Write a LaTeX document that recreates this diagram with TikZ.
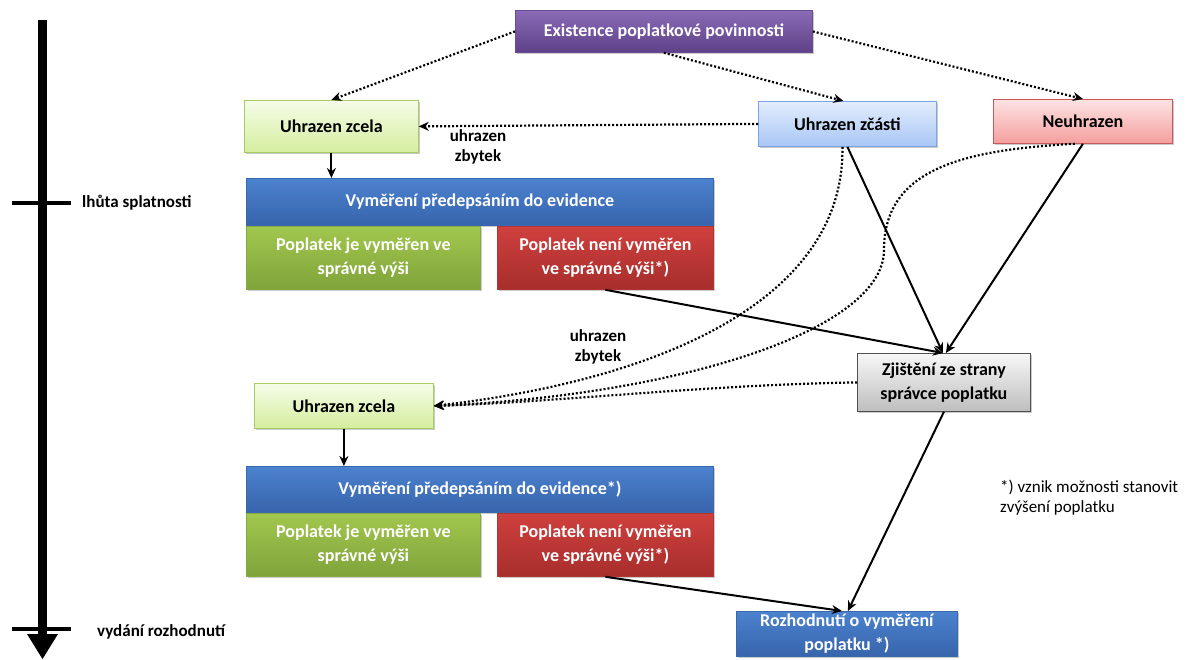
\documentclass[tikz,border=0pt]{standalone}
\usepackage{fontspec}
\setmainfont{Carlito}
\usetikzlibrary{shadows,arrows.meta}
\definecolor{purT}{HTML}{8A6BB5}
\definecolor{purB}{HTML}{5E4189}
\definecolor{purD}{HTML}{6A4E95}
\definecolor{bluT}{HTML}{4C82CE}
\definecolor{bluB}{HTML}{3764AC}
\definecolor{bluD}{HTML}{3A68AE}
\definecolor{grnT}{HTML}{A2C74E}
\definecolor{grnB}{HTML}{7FA33A}
\definecolor{grnD}{HTML}{86A941}
\definecolor{redT}{HTML}{CF403E}
\definecolor{redB}{HTML}{A72E2C}
\definecolor{redD}{HTML}{B03533}
\definecolor{lgrT}{HTML}{F6FCE8}
\definecolor{lgrB}{HTML}{D4EE9E}
\definecolor{lgrD}{HTML}{A9CB63}
\definecolor{lblT}{HTML}{E3EDFC}
\definecolor{lblB}{HTML}{A8C6F6}
\definecolor{lblD}{HTML}{7AA5E0}
\definecolor{pnkT}{HTML}{FDE3E3}
\definecolor{pnkB}{HTML}{F59E9E}
\definecolor{pnkD}{HTML}{C8585A}
\definecolor{gryT}{HTML}{F7F7F7}
\definecolor{gryB}{HTML}{BEBEBE}
\definecolor{gryD}{HTML}{505050}
\tikzset{
  box/.style={draw, line width=0.8pt, inner sep=2pt, align=center, anchor=north west,
    font=\bfseries\fontsize{18}{24}\selectfont,
    drop shadow={shadow xshift=2pt, shadow yshift=-2pt, opacity=0.35, fill=black!60}},
  darkbox/.style={box, text=white},
  lightbox/.style={box, text=black},
  purbox/.style={darkbox, top color=purT, bottom color=purB, draw=purD},
  blubox/.style={darkbox, top color=bluT, bottom color=bluB, draw=bluD},
  grnbox/.style={darkbox, top color=grnT, bottom color=grnB, draw=grnD},
  redbox/.style={darkbox, top color=redT, bottom color=redB, draw=redD},
  lgrbox/.style={lightbox, top color=lgrT, bottom color=lgrB, draw=lgrD},
  lblbox/.style={lightbox, top color=lblT, bottom color=lblB, draw=lblD},
  pnkbox/.style={lightbox, top color=pnkT, bottom color=pnkB, draw=pnkD},
  grybox/.style={lightbox, top color=gryT, bottom color=gryB, draw=gryD},
  dotarrow/.style={line width=2.2pt, dash pattern=on 2pt off 2pt, -{Stealth[length=10pt,width=9pt]}},
  solarrow/.style={line width=2pt, -{Stealth[length=10pt,width=9pt]}},
  lbl/.style={font=\bfseries\fontsize{17}{20}\selectfont, align=center, inner sep=0pt},
  note/.style={font=\fontsize{17}{20}\selectfont, align=left, inner sep=0pt, anchor=west}
}
\begin{document}
\begin{tikzpicture}[x=1pt,y=-1pt]
\useasboundingbox (0,0) rectangle (1186,659);
% timeline
\draw[line width=9pt] (42,20) -- (42,636);
\fill (27,634) -- (58,634) -- (42.5,659) -- cycle;
\draw[line width=4pt] (12,203) -- (71,203);
\draw[line width=4pt] (12,629) -- (71,629);
\node[lbl, anchor=west] (l1) at (82,203) {lhůta splatnosti};
\node[lbl, anchor=west] (l2) at (97,632) {vydání rozhodnutí};
% nodes
\node[purbox, minimum width=297pt, minimum height=42pt] (ex) at (515,10) {Existence poplatkové povinnosti};
\node[lgrbox, minimum width=174pt, minimum height=52pt] (uz1) at (244,100) {Uhrazen zcela};
\node[lblbox, minimum width=178pt, minimum height=45pt] (zc) at (758,101) {Uhrazen zčásti};
\node[pnkbox, minimum width=179pt, minimum height=44pt] (ne) at (993,99) {Neuhrazen};
\node[blubox, minimum width=467pt, minimum height=47pt] (vy1) at (246,178) {Vyměření předepsáním do evidence};
\node[grnbox, minimum width=234pt, minimum height=63pt] (g1) at (246,226) {Poplatek je vyměřen ve\\správné výši};
\node[redbox, minimum width=216pt, minimum height=63pt] (r1) at (497,226) {Poplatek není vyměřen\\ve správné výši*)};
\node[lbl] (t1) at (478,147) {uhrazen\\zbytek};
\node[lbl] (t2) at (598,347) {uhrazen\\zbytek};
\node[grybox, minimum width=173pt, minimum height=58pt] (zj) at (857,353) {Zjištění ze strany\\správce poplatku};
\node[lgrbox, minimum width=179pt, minimum height=45pt] (uz2) at (254,383) {Uhrazen zcela};
\node[blubox, minimum width=467pt, minimum height=46pt] (vy2) at (246,466) {Vyměření předepsáním do evidence*)};
\node[grnbox, minimum width=234pt, minimum height=63pt] (g2) at (246,513) {Poplatek je vyměřen ve\\správné výši};
\node[redbox, minimum width=216pt, minimum height=63pt] (r2) at (497,513) {Poplatek není vyměřen\\ve správné výši*)};
\node[blubox, minimum width=221pt, minimum height=45pt] (ro) at (736,611) {Rozhodnutí o vyměření\\poplatku *)};
\node[note] (fn) at (1000,498) {*) vznik možnosti stanovit\\zvýšení poplatku};
% connectors
\draw[dotarrow] (ex.west) -- (uz1.north);
\draw[dotarrow] (ex.south) -- ([xshift=-4pt]zc.north);
\draw[dotarrow] (ex.east) -- (ne.north);
\draw[dotarrow] (zc.west) -- (uz1.east);
\draw[solarrow] (uz1.south) -- (uz1.south |- vy1.north);
\draw[solarrow] (zc.south) -- ([xshift=-1pt]zj.north);
\draw[solarrow] (ne.south) -- ([xshift=2pt]zj.north);
\draw[solarrow] (r1.south) -- ([xshift=-1pt]zj.north);
\draw[dotarrow] ([xshift=-5pt]zc.south) .. controls (845,300) and (660,380) .. (uz2.east);
\draw[dotarrow] ([xshift=-8pt]ne.south) .. controls (960,150) and (884,170) .. (884,250) .. controls (884,330) and (680,395) .. (uz2.east);
\draw[dotarrow] (zj.west) .. controls (700,385) and (560,402) .. (uz2.east);
\draw[solarrow] (uz2.south) -- (uz2.south |- vy2.north);
\draw[solarrow] (r2.south) -- ([xshift=-5pt]ro.north);
\draw[solarrow] (zj.south) -- ([xshift=1pt]ro.north);
\end{tikzpicture}
\end{document}
